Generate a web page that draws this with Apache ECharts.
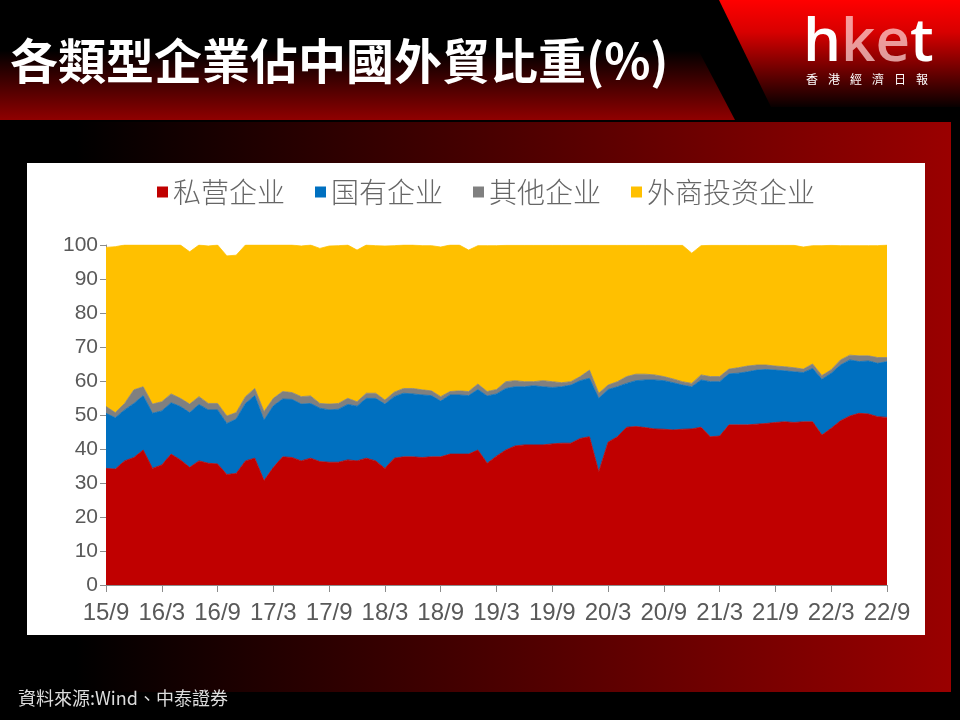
<!DOCTYPE html>
<html><head><meta charset="utf-8">
<script src="https://cdn.jsdelivr.net/npm/echarts@6/dist/echarts.min.js"></script>
<style>html,body{margin:0;padding:0;background:#000}#c{width:960px;height:720px}</style>
</head><body><div id="c"></div>
<script>
const categories = [
 '15/9','15/10','15/11','15/12',
 '16/1','16/2','16/3','16/4','16/5','16/6','16/7','16/8','16/9','16/10','16/11','16/12',
 '17/1','17/2','17/3','17/4','17/5','17/6','17/7','17/8','17/9','17/10','17/11','17/12',
 '18/1','18/2','18/3','18/4','18/5','18/6','18/7','18/8','18/9','18/10','18/11','18/12',
 '19/1','19/2','19/3','19/4','19/5','19/6','19/7','19/8','19/9','19/10','19/11','19/12',
 '20/1','20/2','20/3','20/4','20/5','20/6','20/7','20/8','20/9','20/10','20/11','20/12',
 '21/1','21/2','21/3','21/4','21/5','21/6','21/7','21/8','21/9','21/10','21/11','21/12',
 '22/1','22/2','22/3','22/4','22/5','22/6','22/7','22/8','22/9'
];
const privateShare = [
 34.3,34.1,36.5,37.5,39.7,34.3,35.3,38.5,36.8,34.6,
 36.5,35.8,35.6,32.5,32.8,36.5,37.3,30.7,34.6,37.7,
 37.5,36.5,37.3,36.3,36.1,36.1,36.8,36.5,37.3,36.5,
 34.3,37.3,37.7,37.7,37.5,37.7,37.7,38.5,38.5,38.5,
 39.7,35.8,37.9,39.7,40.9,41.2,41.2,41.2,41.5,41.7,
 41.7,43.1,43.6,33.3,42.0,43.6,46.4,46.6,46.3,45.9,
 45.8,45.6,45.8,45.9,46.4,43.6,43.8,47.1,47.1,47.1,
 47.3,47.5,47.8,48.0,47.8,48.0,48.0,44.1,46.1,48.3,
 49.7,50.5,50.3,49.5,49.3
];
const stateShare = [
 16.2,15.1,15.0,15.9,16.0,16.2,15.9,15.1,15.7,16.1,
 16.6,15.7,15.9,15.0,16.0,16.9,18.4,17.8,18.1,17.0,
 17.1,16.7,16.1,15.7,15.4,15.6,16.3,16.1,17.6,18.4,
 18.9,18.1,18.7,18.5,18.4,18.0,16.4,17.4,17.4,17.2,
 17.8,19.8,18.3,18.1,17.4,17.1,17.4,17.1,16.6,16.6,
 17.1,17.0,17.2,21.6,15.5,14.7,12.9,13.5,14.0,14.4,
 14.3,13.9,13.0,12.4,13.9,16.2,16.0,15.0,15.2,15.6,
 15.9,15.9,15.4,15.0,14.9,14.5,15.7,16.4,16.2,16.4,
 16.5,15.2,15.6,15.7,16.4
];
const otherShare = [
 2.0,1.5,1.9,4.0,2.6,2.7,2.7,2.6,2.4,2.5,
 2.3,1.9,1.9,2.2,1.9,2.0,2.1,2.5,2.2,2.2,
 2.0,2.2,2.2,1.4,1.7,1.7,1.8,1.3,1.5,1.5,
 1.2,1.3,1.4,1.6,1.5,1.4,1.3,1.0,1.2,1.2,
 1.6,1.3,1.3,2.0,1.8,1.5,1.2,1.8,1.7,1.2,
 1.0,1.2,2.4,1.5,1.3,1.5,2.0,1.9,1.7,1.5,
 1.2,1.1,1.0,1.0,1.5,1.5,1.5,1.4,1.6,1.7,
 1.5,1.3,1.2,1.2,1.2,1.0,1.3,1.1,1.0,1.5,
 1.4,1.7,1.5,1.7,1.2
];
const foreignShare = [
 46.8,48.8,46.6,42.6,41.7,46.8,46.1,43.8,45.1,44.8,
 44.6,46.3,46.6,47.1,46.3,44.6,42.2,49.0,45.1,43.1,
 43.4,44.3,44.4,45.6,46.5,46.4,45.1,44.6,43.6,43.4,
 45.3,43.1,42.2,42.2,42.4,42.7,44.0,43.1,42.9,41.6,
 40.7,42.9,42.3,40.1,39.8,40.1,40.1,39.8,40.1,40.4,
 40.1,38.6,36.7,43.5,41.1,40.1,38.6,37.9,37.9,38.1,
 38.6,39.3,40.1,38.3,38.0,38.6,38.6,36.4,36.0,35.5,
 35.2,35.2,35.5,35.7,36.0,35.9,34.8,38.2,36.6,33.6,
 32.2,32.4,32.4,32.9,33.1
];
const seriesNames = ['私营企业','国有企业','其他企业','外商投资企业'];
const seriesColors = ['#C00000','#0070C0','#808080','#FFC000'];
const titleText = '各類型企業佔中國外貿比重(%)';
const sourceText = '資料來源:Wind、中泰證券';
const logoSub = ['香','港','經','濟','日','報'];

const seriesData = [privateShare, stateShare, otherShare, foreignShare];
const axisFont = '"Liberation Sans",Arial,sans-serif';

const chart = echarts.init(document.getElementById('c'), null, {renderer:'canvas', width:960, height:720});

const G = echarts.graphic;
const graphics = [
  {type:'rect', z:-10, silent:true, shape:{x:0,y:122,width:951,height:570},
   style:{fill:new G.LinearGradient(0,0,1,0,[{offset:0,color:'#000'},{offset:0.08,color:'#000'},{offset:1,color:'#9a0000'}])}},
  {type:'polygon', z:-10, silent:true, shape:{points:[[0,0],[672,0],[735,120],[0,120]]},
   style:{fill:new G.LinearGradient(0,0,0,1,[{offset:0,color:'#000'},{offset:0.42,color:'#000'},{offset:1,color:'#900000'}])}},
  {type:'polygon', z:-10, silent:true, shape:{points:[[719,0],[960,0],[960,107],[771,107]]},
   style:{fill:new G.LinearGradient(0,0,0,1,[{offset:0,color:'#ff0000'},{offset:0.3,color:'#d80000'},{offset:1,color:'#080000'}])}},
  {type:'rect', z:-9, silent:true, shape:{x:27,y:163,width:898,height:472}, style:{fill:'#ffffff'}},
  {type:'text', z:10, silent:true, x:10, y:61,
   style:{text:titleText, fill:'#ffffff', font:'bold 48px "Noto Sans CJK TC"', textVerticalAlign:'middle'}},
  {type:'text', z:10, silent:true, x:803, y:44,
   style:{text:'{a|h}{b|ke}{a|t}', textVerticalAlign:'middle',
     rich:{a:{fill:'#ffffff', font:'600 60px "Open Sans"'}, b:{fill:'rgba(255,215,215,0.72)', font:'600 60px "Open Sans"'}}}},
  {type:'text', z:10, silent:true, x:18, y:698,
   style:{text:sourceText, fill:'#dddddd', font:'18px "Noto Sans CJK TC"', textVerticalAlign:'middle'}}
];
logoSub.forEach((ch,k)=>{
  graphics.push({type:'text', z:10, silent:true, x:806 + k*22, y:79,
    style:{text:ch, fill:'#ffffff', font:'12px "Noto Sans CJK TC"', textVerticalAlign:'middle'}});
});

chart.setOption({
  animation:false,
  backgroundColor:'#000',
  graphic: graphics,
  legend:{
    left:152, top:173, icon:'rect', itemWidth:11, itemHeight:11, itemGap:30,
    data: seriesNames,
    textStyle:{fontSize:28, color:'#666666', fontFamily:'"Noto Sans CJK SC"', fontWeight:300}
  },
  grid:{left:106, right:73, top:245, bottom:135},
  xAxis:{
    type:'category', data:categories, boundaryGap:false,
    axisLine:{lineStyle:{color:'#8c8c8c', width:1}},
    axisTick:{show:true, interval:5, length:7, lineStyle:{color:'#8c8c8c'}},
    axisLabel:{interval:5, color:'#595959', fontSize:24, fontFamily:axisFont, margin:16},
    splitLine:{show:false}
  },
  yAxis:{
    type:'value', min:0, max:100, interval:10,
    axisLine:{show:true, lineStyle:{color:'#8c8c8c', width:1}},
    axisTick:{show:true, length:6, lineStyle:{color:'#8c8c8c'}},
    axisLabel:{color:'#595959', fontSize:21, fontFamily:axisFont, margin:8},
    splitLine:{show:false}
  },
  series: seriesNames.map((n,k)=>({
    name:n, type:'line', stack:'total', data:seriesData[k],
    symbol:'none', showSymbol:false, silent:true,
    lineStyle:{width:0.8, color:seriesColors[k]},
    itemStyle:{color:seriesColors[k]},
    areaStyle:{color:seriesColors[k], opacity:1}
  }))
});
</script></body></html>
